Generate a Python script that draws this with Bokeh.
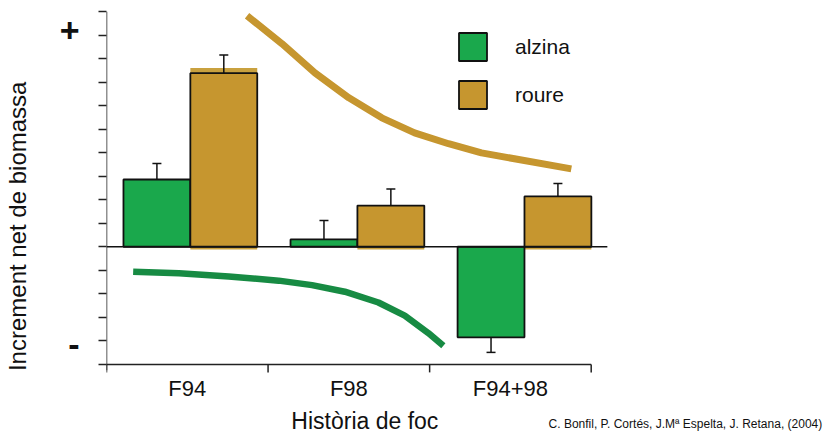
from bokeh.plotting import figure
from bokeh.models import FixedTicker, Legend, LegendItem, ColumnDataSource, Range1d
from bokeh.core.properties import value
from bokeh.embed import file_html
from bokeh.resources import INLINE

# ---- data ----
categories = ["F94", "F98", "F94+98"]
alzina = [2.86, 0.31, -3.85]
alzina_err = [3.54, 1.12, -4.49]
roure = [7.38, 1.75, 2.14]
roure_err = [8.15, 2.45, 2.69]

roure_trend_x = [0.870, 1.086, 1.290, 1.500, 1.704, 1.907, 2.117, 2.321, 2.525, 2.877]
roure_trend_y = [9.82, 8.63, 7.39, 6.33, 5.48, 4.84, 4.38, 3.99, 3.74, 3.31]
alzina_trend_x = [0.165, 0.449, 0.757, 1.066, 1.272, 1.475, 1.683, 1.846, 1.992, 2.085]
alzina_trend_y = [-1.06, -1.13, -1.26, -1.44, -1.63, -1.91, -2.37, -2.93, -3.67, -4.21]

y_min, y_max = -5, 10
y_ticks = list(range(y_min, y_max + 1))
sign_labels = {9.18: "+", -4.16: "-"}
x_title = "Història de foc"
y_title = "Increment net  de biomassa"
credit = "C. Bonfil, P. Cortés, J.Mª Espelta, J. Retana, (2004)"

GREEN = "#1aa84c"
GOLD = "#c6962f"
GREEN_LINE = "#178b43"
INK = "#111111"
FONT = "Liberation Sans"

n = len(categories)
cat_x = [i + 0.5 for i in range(n)]
bounds = list(range(n + 1))

# layout of the bar groups (the groups are drawn slightly right of the category centres)
BW = 0.414
GROUP_START = 0.519
GROUP_PITCH = 1.034
group_x = [GROUP_START + i * GROUP_PITCH for i in range(n)]
xa_ = [g - BW / 2 for g in group_x]
xr_ = [g + BW / 2 for g in group_x]

src = ColumnDataSource(dict(xa=xa_, xr=xr_, alzina=alzina, alzina_err=alzina_err,
                            roure=roure, roure_err=roure_err,
                            shadow=[roure[0] + 0.22] + [None] * (n - 1)))

TICK = 0.34          # tick length (8 px) in y units

p = figure(width=824, height=434, x_range=Range1d(0, 4.444), y_range=Range1d(-7.98, y_max),
           output_backend="svg", toolbar_location=None, x_axis_location=None,
           min_border_left=104, min_border_right=0, min_border_top=11, min_border_bottom=0)
p.grid.visible = False
p.outline_line_color = None
p.background_fill_color = "white"
p.border_fill_color = "white"

# shadow behind first roure bar
p.vbar(x="xr", top="shadow", bottom=-0.12, width=BW, source=src,
       fill_color="#c9a13f", line_color=None)

ra = p.vbar(x="xa", top="alzina", bottom=0, width=BW, source=src,
            fill_color=GREEN, line_color=INK, line_width=1.8)
rr = p.vbar(x="xr", top="roure", bottom=0, width=BW, source=src,
            fill_color=GOLD, line_color=INK, line_width=1.8)

# error bars
for xc, v, e in [("xa", "alzina", "alzina_err"), ("xr", "roure", "roure_err")]:
    p.segment(x0=xc, y0=v, x1=xc, y1=e, source=src, line_color=INK, line_width=1.5)
    p.scatter(x=xc, y=e, source=src, marker="dash", size=9, line_color=INK, line_width=1.5)

# zero line
p.segment(x0=[0], y0=[0], x1=[3.1], y1=[0], line_color=INK, line_width=1.4)

# x axis (drawn with the data scales)
p.segment(x0=[-0.025], y0=[y_min], x1=[bounds[-1]], y1=[y_min], line_color="#222222", line_width=1.5)
p.segment(x0=bounds, y0=[y_min] * len(bounds), x1=bounds, y1=[y_min - TICK] * len(bounds),
          line_color="#222222", line_width=1.5)
p.text(x=cat_x, y=[-6.02] * n, text=categories, text_align="center", text_baseline="alphabetic",
       text_font=value(FONT), text_font_size="22px", text_color=INK)
p.text(x=[1.599], y=[-7.40], text=[x_title], text_align="center", text_baseline="alphabetic",
       text_font=value(FONT), text_font_size="23px", text_color=INK)
p.text(x=[4.43], y=[-7.52], text=[credit], text_align="right", text_baseline="alphabetic",
       text_font=value(FONT), text_font_size="12px", text_color=INK)

# y axis line
p.segment(x0=[0], y0=[y_min - 0.25], x1=[0], y1=[y_max], line_color="#222222", line_width=1.5)

# trend curves
p.line(roure_trend_x, roure_trend_y, line_color=GOLD, line_width=7, line_cap="butt", line_join="round")
p.line(alzina_trend_x, alzina_trend_y, line_color=GREEN_LINE, line_width=6.5, line_cap="butt", line_join="round")

# y axis
ya = p.yaxis[0]
ya.ticker = FixedTicker(ticks=list(sign_labels.keys()), minor_ticks=y_ticks)
ya.major_label_overrides = sign_labels
ya.axis_line_color = None
ya.major_tick_out = 0
ya.major_tick_in = 0
ya.minor_tick_out = 8
ya.minor_tick_in = 0
ya.minor_tick_line_color = "#222222"
ya.minor_tick_line_width = 1.5
ya.major_label_standoff = 19
ya.major_label_text_font = FONT
ya.major_label_text_font_size = "34px"
ya.major_label_text_font_style = "bold"
ya.major_label_text_color = INK
ya.axis_label = y_title
ya.axis_label_text_font = FONT
ya.axis_label_text_font_size = "24px"
ya.axis_label_text_font_style = "normal"
ya.axis_label_text_color = INK
ya.axis_label_standoff = 26

legend = Legend(items=[LegendItem(label="alzina", renderers=[ra]),
                       LegendItem(label="roure", renderers=[rr])],
                location=(349, 322), glyph_width=35, glyph_height=35, label_standoff=25,
                spacing=13, padding=0, margin=0, border_line_color=None,
                background_fill_alpha=0, label_text_font=FONT, label_text_font_size="21px",
                label_text_color=INK)
p.add_layout(legend)

open("out.html", "w").write(file_html(p, INLINE))
